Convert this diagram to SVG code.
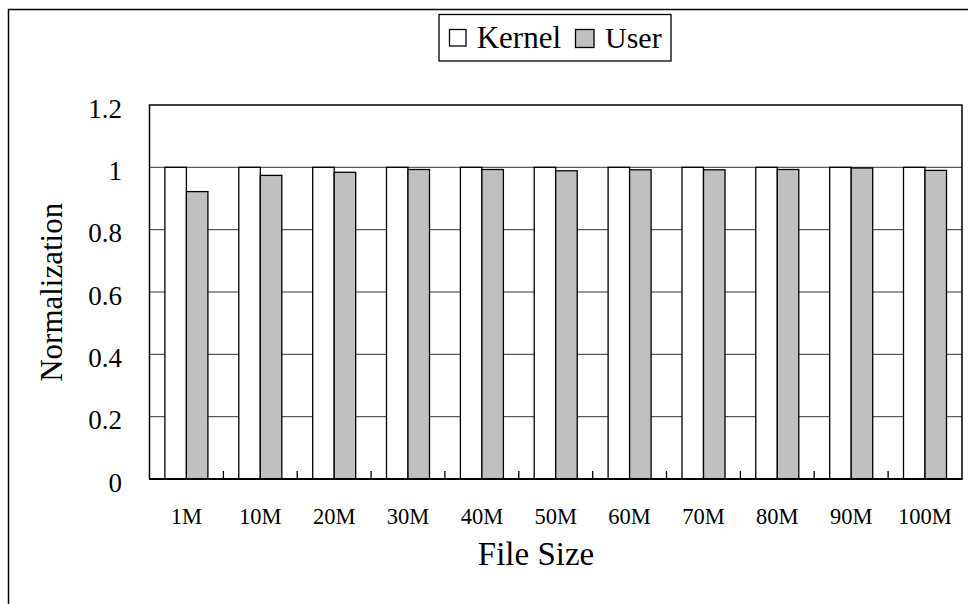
<svg xmlns="http://www.w3.org/2000/svg" width="968" height="604" viewBox="0 0 968 604">
<style>
text{font-family:"Liberation Serif","Times New Roman","DejaVu Serif","Noto Serif",Times,serif;fill:#000}
.yl{font-size:27px;text-anchor:end}
.xl{font-size:22.5px;text-anchor:middle}
.k{fill:#fff;stroke:#000;stroke-width:1.3}
.u{fill:#c0c0c0;stroke:#000;stroke-width:1.3}
.g{stroke:#333;stroke-width:1}
</style>
<rect x="8.5" y="9.5" width="980" height="620" fill="#fff" stroke="#000" stroke-width="1.5"/>
<g id="grid">
<line class="g" x1="149.5" y1="416.7" x2="962" y2="416.7"/>
<line class="g" x1="149.5" y1="354.3" x2="962" y2="354.3"/>
<line class="g" x1="149.5" y1="292" x2="962" y2="292"/>
<line class="g" x1="149.5" y1="229.7" x2="962" y2="229.7"/>
<line class="g" x1="149.5" y1="167.3" x2="962" y2="167.3"/>
</g>
<g id="bars">
<rect class="k" x="164.9" y="167.3" width="21.5" height="311.7"/><rect class="u" x="186.4" y="191.6" width="21.5" height="287.4"/>
<rect class="k" x="238.8" y="167.3" width="21.5" height="311.7"/><rect class="u" x="260.3" y="175.4" width="21.5" height="303.6"/>
<rect class="k" x="312.7" y="167.3" width="21.5" height="311.7"/><rect class="u" x="334.2" y="172.3" width="21.5" height="306.7"/>
<rect class="k" x="386.5" y="167.3" width="21.5" height="311.7"/><rect class="u" x="408" y="169.5" width="21.5" height="309.5"/>
<rect class="k" x="460.4" y="167.3" width="21.5" height="311.7"/><rect class="u" x="481.9" y="169.5" width="21.5" height="309.5"/>
<rect class="k" x="534.2" y="167.3" width="21.5" height="311.7"/><rect class="u" x="555.7" y="170.8" width="21.5" height="308.2"/>
<rect class="k" x="608.1" y="167.3" width="21.5" height="311.7"/><rect class="u" x="629.6" y="169.8" width="21.5" height="309.2"/>
<rect class="k" x="682" y="167.3" width="21.5" height="311.7"/><rect class="u" x="703.5" y="169.8" width="21.5" height="309.2"/>
<rect class="k" x="755.8" y="167.3" width="21.5" height="311.7"/><rect class="u" x="777.3" y="169.5" width="21.5" height="309.5"/>
<rect class="k" x="829.7" y="167.3" width="21.5" height="311.7"/><rect class="u" x="851.2" y="168" width="21.5" height="311"/>
<rect class="k" x="903.5" y="167.3" width="21.5" height="311.7"/><rect class="u" x="925" y="170.4" width="21.5" height="308.6"/>
</g>
<g id="axes" stroke="#000" fill="none">
<path d="M149.5 479 V105 H962 V479" stroke-width="1.5"/>
<line x1="149" y1="479" x2="962.7" y2="479" stroke-width="2"/>
<path d="M223.4 479v-8M297.2 479v-8M371.1 479v-8M444.9 479v-8M518.8 479v-8M592.7 479v-8M666.5 479v-8M740.4 479v-8M814.2 479v-8M888.1 479v-8" stroke-width="1.3"/>
</g>
<g id="ylabels">
<text class="yl" x="122" y="118">1.2</text>
<text class="yl" x="122" y="180">1</text>
<text class="yl" x="122" y="242">0.8</text>
<text class="yl" x="122" y="304.5">0.6</text>
<text class="yl" x="122" y="366.8">0.4</text>
<text class="yl" x="122" y="429">0.2</text>
<text class="yl" x="122" y="491.5">0</text>
</g>
<g id="xlabels">
<text class="xl" x="186.4" y="523.5">1M</text>
<text class="xl" x="260.3" y="523.5">10M</text>
<text class="xl" x="334.2" y="523.5">20M</text>
<text class="xl" x="408" y="523.5">30M</text>
<text class="xl" x="481.9" y="523.5">40M</text>
<text class="xl" x="555.7" y="523.5">50M</text>
<text class="xl" x="629.6" y="523.5">60M</text>
<text class="xl" x="703.5" y="523.5">70M</text>
<text class="xl" x="777.3" y="523.5">80M</text>
<text class="xl" x="851.2" y="523.5">90M</text>
<text class="xl" x="925" y="523.5">100M</text>
</g>
<g id="titles">
<text x="536" y="565" font-size="33" text-anchor="middle">File Size</text>
<text transform="translate(61.5 292.3) rotate(-90)" font-size="31" text-anchor="middle">Normalization</text>
</g>
<g id="legend">
<rect x="439" y="14.5" width="232" height="46.5" fill="#fff" stroke="#000" stroke-width="1.3"/>
<rect class="k" x="449.5" y="29.5" width="16.5" height="16.5"/>
<text x="476.7" y="47.7" font-size="31">Kernel</text>
<rect class="u" x="575.5" y="29.5" width="18.5" height="18"/>
<text x="605" y="47.7" font-size="30">User</text>
</g>
</svg>
